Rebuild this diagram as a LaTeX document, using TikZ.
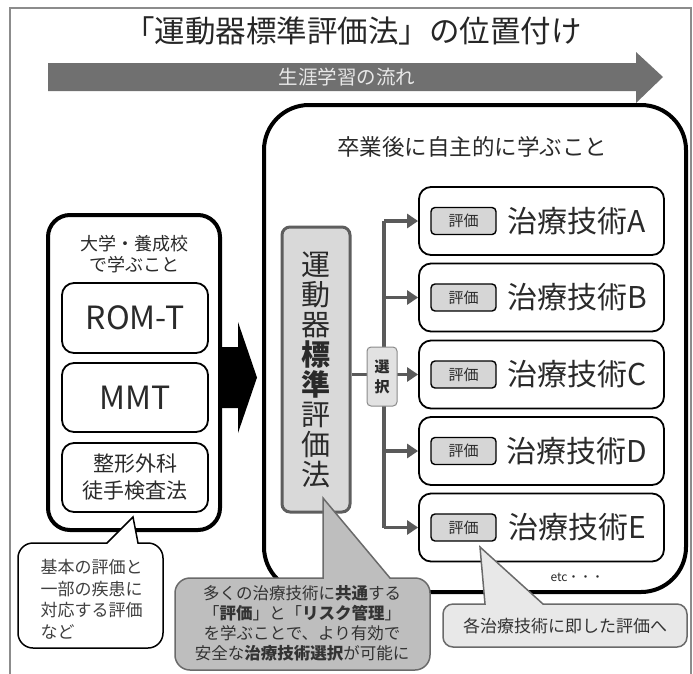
\documentclass[tikz,border=0pt]{standalone}
\usepackage{fontspec}
\setmainfont{Noto Sans CJK JP}
\usetikzlibrary{arrows.meta}
\definecolor{arrowgray}{HTML}{707070}
\definecolor{flowtext}{HTML}{E8E8E8}
\definecolor{txt}{HTML}{2A2A2A}
\definecolor{conngray}{HTML}{5A5A5A}
\definecolor{tagfill}{HTML}{D6D6D6}
\definecolor{stdfill}{HTML}{D9D9D9}
\definecolor{stdborder}{HTML}{5E5E5E}
\definecolor{selfill}{HTML}{E2E2E2}
\definecolor{selborder}{HTML}{8A8A8A}
\definecolor{midfill}{HTML}{BEBEBE}
\definecolor{midborder}{HTML}{6A6A6A}
\definecolor{rightfill}{HTML}{E8E8E8}
\definecolor{framegray}{HTML}{8C8C8C}
\begin{document}
\begin{tikzpicture}[x=1pt,y=-1pt,
  every node/.style={text=txt},
  tbox/.style={draw=black, line width=1.8pt, rounded corners=12pt, minimum width=245pt, minimum height=68pt, inner sep=0pt},
  tag/.style={draw=black, line width=1.4pt, fill=tagfill, rounded corners=4pt, minimum width=65pt, minimum height=27pt, inner sep=0pt, font=\fontsize{15}{15}\selectfont},
  ttext/.style={font=\fontsize{30}{30}\selectfont, inner sep=0pt},
  lbox/.style={draw=black, line width=1.8pt, rounded corners=12pt, minimum width=146pt, inner sep=0pt},
  conn/.style={draw=conngray, line width=3.5pt},
  arr/.style={conn, -{Triangle[length=11pt,width=14pt]}}
]
\useasboundingbox (0,0) rectangle (693,673);
% frame
\draw[framegray, line width=1.2pt] (10,690) -- (10,8) -- (691,8) -- (691,690);
% title
\node[font=\fontsize{30.5}{30.5}\selectfont, text=black!85] (title) at (353,31) {「運動器標準評価法」の位置付け};
% lifelong arrow
\fill[arrowgray] (48,63) -- (636,63) -- (636,52) -- (663,77) -- (636,103) -- (636,91) -- (48,91) -- cycle;
\node[font=\fontsize{19.5}{19.5}\selectfont, text=flowtext] (flow) at (347,77) {生涯学習の流れ};
% left box
\node[draw=black, line width=4pt, rounded corners=22pt, minimum width=172pt, minimum height=315pt] (left) at (134,372.5) {};
\node[font=\fontsize{18}{21}\selectfont, align=center] (lefttitle) at (134,254) {大学・養成校\\で学ぶこと};
\node[lbox, minimum height=70pt, font=\fontsize{32}{32}\selectfont] (rom) at (135,318) {ROM-T};
\node[lbox, minimum height=69pt, font=\fontsize{32}{32}\selectfont] (mmt) at (135,397.5) {MMT};
\node[lbox, minimum height=69pt, font=\fontsize{21}{27}\selectfont, align=center] (seikei) at (135,477.5) {整形外科\\徒手検査法};
% black arrow
\fill[black] (220,347) -- (238,347) -- (238,322) -- (257,377.5) -- (238,433) -- (238,408) -- (220,408) -- cycle;
% big box
\node[draw=black, line width=4pt, rounded corners=45pt, minimum width=422pt, minimum height=487pt] (big) at (475,348.5) {};
\node[font=\fontsize{22.5}{22.5}\selectfont] (bigtitle) at (472,147) {卒業後に自主的に学ぶこと};
% treatment boxes
\foreach \L/\y in {A/221,B/297.5,C/374.5,D/451,E/527.5}{
  \node[tbox] (t\L) at (541.5,\y) {};
  \node[tag] (g\L) at (463.5,\y) {評価};
  \node[ttext] (x\L) at (577,\y) {治療技術\L};
}
\node[font=\fontsize{12}{12}\selectfont] (etc) at (577,577) {etc・・・};
% standard evaluation box
\node[draw=stdborder, fill=stdfill, line width=3pt, rounded corners=8pt, minimum width=68pt, minimum height=285pt, inner sep=0pt, align=center, font=\fontsize{29}{30}\selectfont] (std) at (316,369.5) {運\\動\\器\\\textbf{標}\\\textbf{準}\\評\\価\\法};
% connectors
\coordinate (trunk) at (384,221);
\draw[conn] (trunk |- tA.west) -- (trunk |- tE.west);
\draw[conn] (std.east |- tC.west) -- (trunk |- tC.west);
\foreach \L in {A,B,C,D,E}{
  \draw[arr] (trunk |- t\L.west) -- (t\L.west);
}
\node[draw=selborder, fill=selfill, line width=1pt, rounded corners=4pt, minimum width=30pt, minimum height=59pt, inner sep=0pt, align=center, font=\fontsize{15}{20}\selectfont\bfseries] (sel) at (382,376.5) {選\\択};
% callout 1 (left)
\draw[black, line width=1.5pt, fill=white] (133,517) -- (107,543) [rounded corners=15pt] -- (18,543) -- (18,648) -- (163,648) -- (163,543) [sharp corners] -- (138,543) -- cycle;
\node[anchor=west, align=left, font=\fontsize{17}{21.5}\selectfont, text=black!75] (c1) at (37,599.5) {基本の評価と\\一部の疾患に\\対応する評価\\など};
% callout 2 (middle)
\draw[midborder, line width=1.5pt, fill=midfill] (323,498) -- (323,578) [rounded corners=15pt] -- (175,578) -- (175,670) -- (430,670) -- (430,578) [sharp corners] -- (390,578) -- cycle;
\node[align=center, font=\fontsize{16.5}{20}\selectfont, text=black!80] (c2) at (302,623.5) {多くの治療技術に\textbf{共通}する\\「\textbf{評価}」と「\textbf{リスク管理}」\\を学ぶことで、より有効で\\安全な\textbf{治療技術選択}が可能に};
% callout 3 (right)
\draw[midborder, line width=1.5pt, fill=rightfill] (480,547) -- (485,604) [rounded corners=10pt] -- (443,604) -- (443,647) -- (687,647) -- (687,604) [sharp corners] -- (543,604) -- cycle;
\node[font=\fontsize{17}{17}\selectfont, text=black!80] (c3) at (565,626) {各治療技術に即した評価へ};
\end{tikzpicture}
\end{document}
